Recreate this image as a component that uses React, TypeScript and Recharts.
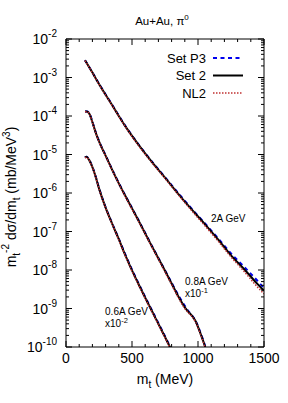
import React from 'react';
import { LineChart, Line, XAxis, YAxis, Legend, ReferenceDot } from 'recharts';

const FONT = '"Liberation Sans", Arial, Helvetica, sans-serif';

// m_t grid (MeV) and log10(m_t^-2 dσ/dm_t)
const mt2A = [144, 200, 250, 300, 350, 400, 450, 550, 650, 750, 850, 950, 1050, 1150, 1250, 1350, 1450, 1500];
const set2_2A = [-2.55, -2.87, -3.17, -3.45, -3.72, -4.0, -4.27, -4.75, -5.19, -5.6, -6.02, -6.42, -6.8, -7.2, -7.62, -7.98, -8.36, -8.54];
const p3_2A = [-2.55, -2.87, -3.16, -3.44, -3.71, -3.99, -4.26, -4.74, -5.18, -5.59, -6.0, -6.4, -6.78, -7.17, -7.57, -7.92, -8.28, -8.47];
const nl2_2A = [-2.56, -2.88, -3.18, -3.46, -3.73, -4.01, -4.28, -4.77, -5.21, -5.62, -6.04, -6.45, -6.84, -7.24, -7.66, -8.04, -8.44, -8.62];

const mt08 = [144, 160, 180, 200, 225, 250, 300, 350, 400, 450, 500, 550, 600, 650, 700, 750, 800, 850, 900, 930, 955, 980, 1020, 1055];
const set2_08 = [-3.88, -3.88, -3.96, -4.16, -4.43, -4.66, -5.03, -5.4, -5.75, -6.08, -6.4, -6.72, -7.05, -7.38, -7.7, -8.02, -8.35, -8.68, -8.97, -9.1, -9.19, -9.32, -9.66, -10.0];
const p3_08 = [-3.88, -3.88, -3.95, -4.15, -4.42, -4.65, -5.02, -5.39, -5.74, -6.07, -6.39, -6.71, -7.04, -7.37, -7.69, -8.01, -8.33, -8.65, -8.93, -9.08, -9.18, -9.31, -9.64, -9.98];
const nl2_08 = [-3.89, -3.89, -3.97, -4.17, -4.44, -4.67, -5.04, -5.41, -5.76, -6.1, -6.42, -6.74, -7.07, -7.4, -7.72, -8.05, -8.38, -8.71, -9.0, -9.12, -9.21, -9.34, -9.68, -10.02];

const mt06 = [144, 155, 175, 200, 225, 250, 300, 350, 400, 450, 500, 550, 600, 650, 700, 750, 790];
const set2_06 = [-5.08, -5.06, -5.14, -5.33, -5.58, -5.88, -6.38, -6.8, -7.2, -7.62, -8.01, -8.37, -8.72, -9.06, -9.4, -9.74, -10.02];
const p3_06 = [-5.08, -5.06, -5.13, -5.32, -5.57, -5.87, -6.37, -6.79, -7.19, -7.6, -7.99, -8.35, -8.7, -9.04, -9.38, -9.72, -10.0];
const nl2_06 = [-5.09, -5.07, -5.15, -5.34, -5.59, -5.89, -6.39, -6.81, -7.22, -7.64, -8.03, -8.39, -8.74, -9.08, -9.42, -9.76, -10.04];

const xMajor = [0, 500, 1000, 1500];
const xTicks = [0, 100, 200, 300, 400, 500, 600, 700, 800, 900, 1000, 1100, 1200, 1300, 1400, 1500];
const yDecades = [-10, -9, -8, -7, -6, -5, -4, -3, -2];

const legendItems = [
  { name: 'Set P3', color: '#0000ee', dash: '4 3.5', width: 2 },
  { name: 'Set 2', color: '#000000', dash: undefined, width: 2 },
  { name: 'NL2', color: '#c03030', dash: '1.5 1.5', width: 1.5 },
];

const curves = [
  { mt: mt2A, sets: [p3_2A, set2_2A, nl2_2A] },
  { mt: mt08, sets: [p3_08, set2_08, nl2_08] },
  { mt: mt06, sets: [p3_06, set2_06, nl2_06] },
];

const notes = [
  { x: 1098, y: 1.8e-7, label: '2A GeV', scale: '' },
  { x: 902, y: 4.1e-9, label: '0.8A GeV', scale: '-1' },
  { x: 296, y: 6.8e-10, label: '0.6A GeV', scale: '-2' },
];

const pts = (mt: number[], lg: number[]) => mt.map((x, i) => ({ x, y: Math.pow(10, lg[i]) }));

// log axis: decades are major ticks, 2..9 in between are minor
const yTicks: number[] = [];
yDecades.forEach((e, i) => {
  yTicks.push(Math.pow(10, e));
  if (i < yDecades.length - 1) for (let k = 2; k <= 9; k++) yTicks.push(k * Math.pow(10, e));
});
const isDecade = (v: number) => Math.abs(Math.log10(v) - Math.round(Math.log10(v))) < 1e-6;

const tickStroke = { stroke: '#000', strokeWidth: 1 };

// dir: which way the tick points into the plot
const makeXTick = (dir: number, labels: boolean) => (props: any) => {
  const { x, y, payload } = props;
  const major = xMajor.includes(payload.value);
  const len = major ? 6 : 3;
  return (
    <g>
      <line x1={x} x2={x} y1={y} y2={y + dir * len} {...tickStroke} />
      {labels && major && (
        <text x={x} y={y + 16} textAnchor="middle" fontSize={14} fontFamily={FONT} fill="#000">
          {payload.value}
        </text>
      )}
    </g>
  );
};

const makeYTick = (dir: number, labels: boolean) => (props: any) => {
  const { x, y, payload } = props;
  const major = isDecade(payload.value);
  const len = major ? 6 : 3;
  const exp = Math.round(Math.log10(payload.value));
  return (
    <g>
      <line x1={x} x2={x + dir * len} y1={y} y2={y} {...tickStroke} />
      {labels && major && (
        <text x={x - 9} y={y + 5} textAnchor="end" fontSize={14} fontFamily={FONT} fill="#000">
          <tspan>10</tspan>
          <tspan dy={-7} fontSize={10}>{exp}</tspan>
        </text>
      )}
    </g>
  );
};

const YTitle = (props: any) => {
  const vb = props.viewBox;
  const cx = 15.5;
  const cy = vb.y + vb.height / 2 + 4;
  return (
    <text x={cx} y={cy} transform={`rotate(-90, ${cx}, ${cy})`} textAnchor="middle" fontSize={14} fontFamily={FONT} fill="#000">
      <tspan>m</tspan>
      <tspan dy={4} fontSize={10}>t</tspan>
      <tspan dy={-11} fontSize={10}>-2</tspan>
      <tspan dy={7}> dσ/dm</tspan>
      <tspan dy={4} fontSize={10}>t</tspan>
      <tspan dy={-4}> (mb/MeV</tspan>
      <tspan dy={-6} fontSize={10}>3</tspan>
      <tspan dy={6}>)</tspan>
    </text>
  );
};

const XTitle = (props: any) => {
  const vb = props.viewBox;
  return (
    <text x={vb.x + vb.width / 2} y={384} textAnchor="middle" fontSize={14} fontFamily={FONT} fill="#000">
      <tspan>m</tspan>
      <tspan dy={4} fontSize={10}>t</tspan>
      <tspan dy={-4}> (MeV)</tspan>
    </text>
  );
};

const Title = (props: any) => {
  const vb = props.viewBox;
  return (
    <text x={vb.x + vb.width / 2 - 3} y={25} textAnchor="middle" fontSize={11.5} fontFamily={FONT} fill="#000">
      <tspan>Au+Au, π</tspan>
      <tspan dy={-5} fontSize={8}>0</tspan>
    </text>
  );
};

const Note = (note: (typeof notes)[number]) => (props: any) => {
  const vb = props.viewBox;
  const x = vb.x + vb.width / 2;
  const y = vb.y + vb.height / 2;
  return (
    <text x={x} y={y} fontSize={10} fontFamily={FONT} fill="#000">
      <tspan x={x}>{note.label}</tspan>
      {note.scale && (
        <>
          <tspan x={x} dy={11.7}>x10</tspan>
          <tspan dy={-4} fontSize={7.5}>{note.scale}</tspan>
        </>
      )}
    </text>
  );
};

const LegendBox = () => (
  <svg width={150} height={56} style={{ display: 'block' }}>
    {legendItems.map((it, i) => {
      const y = 11 + i * 17.5;
      return (
        <g key={it.name}>
          <text x={106} y={y + 4.5} textAnchor="end" fontSize={13} fontFamily={FONT} fill="#000">
            {it.name}
          </text>
          <line x1={113} x2={143} y1={y} y2={y} stroke={it.color} strokeWidth={it.width} strokeDasharray={it.dash} />
        </g>
      );
    })}
  </svg>
);

const axisStyle = { stroke: '#000', strokeWidth: 1 };

export default function App() {
  return (
    <div style={{ position: 'absolute', left: 0, top: 0, background: '#fff' }}>
      <LineChart width={288} height={403} margin={{ top: 38, right: 23, bottom: 0, left: 0 }}>
        <XAxis
          xAxisId="m"
          dataKey="x"
          type="number"
          domain={[0, 1500]}
          allowDataOverflow
          ticks={xTicks}
          interval={0}
          tickLine={false}
          tickSize={0}
          tickMargin={0}
          tick={makeXTick(-1, true)}
          axisLine={axisStyle}
          height={56}
          label={<XTitle />}
        />
        <YAxis
          yAxisId="m"
          type="number"
          scale="log"
          domain={[1e-10, 1e-2]}
          allowDataOverflow
          ticks={yTicks}
          interval={0}
          tickLine={false}
          tickSize={0}
          tickMargin={0}
          tick={makeYTick(1, true)}
          axisLine={axisStyle}
          width={66}
          label={<YTitle />}
        />
        <XAxis
          xAxisId="top"
          dataKey="x"
          type="number"
          orientation="top"
          domain={[0, 1500]}
          allowDataOverflow
          ticks={xTicks}
          interval={0}
          tickLine={false}
          tickSize={0}
          tickMargin={0}
          tick={makeXTick(1, false)}
          axisLine={axisStyle}
          height={1}
          label={<Title />}
        />
        <YAxis
          yAxisId="right"
          orientation="right"
          type="number"
          scale="log"
          domain={[1e-10, 1e-2]}
          allowDataOverflow
          ticks={yTicks}
          interval={0}
          tickLine={false}
          tickSize={0}
          tickMargin={0}
          tick={makeYTick(-1, false)}
          axisLine={axisStyle}
          width={1}
        />

        {legendItems.map((st, si) =>
          curves.map((c, ci) => (
            <Line
              key={`${si}-${ci}`}
              xAxisId="m"
              yAxisId="m"
              data={pts(c.mt, c.sets[si])}
              dataKey="y"
              type="monotone"
              stroke={st.color}
              strokeWidth={st.width}
              strokeDasharray={st.dash}
              dot={false}
              legendType="none"
              isAnimationActive={false}
            />
          ))
        )}

        {notes.map((n) => (
          <ReferenceDot key={n.label} xAxisId="m" yAxisId="m" x={n.x} y={n.y} r={0} fill="none" stroke="none" label={Note(n)} />
        ))}

        <Legend
          layout="vertical"
          align="center"
          verticalAlign="middle"
          content={() => <LegendBox />}
          wrapperStyle={{ position: 'absolute', left: 100, top: 47, width: 150, height: 56 }}
        />
      </LineChart>
    </div>
  );
}
